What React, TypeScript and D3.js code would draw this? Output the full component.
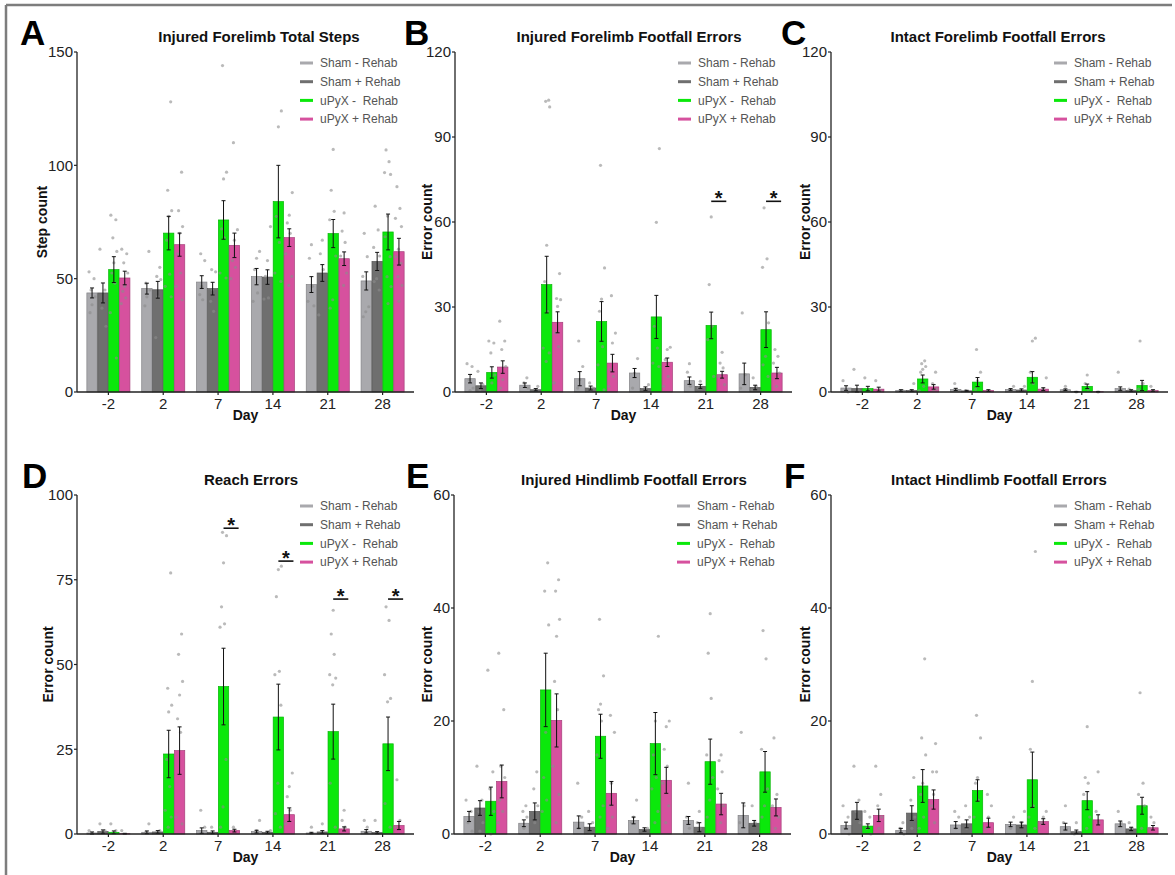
import React from "react";
import * as d3 from "d3";

const days = ["-2", "2", "7", "14", "21", "28"];
const groups = ["Sham - Rehab", "Sham + Rehab", "uPyX -  Rehab", "uPyX + Rehab"];
const groupColors = ["#a9a9ad", "#6f6f6f", "#0be80b", "#d6519e"];

// A: Injured Forelimb Total Steps
const aMeans = [
  [43.7, 45.6, 48.5, 50.9, 47.4, 49],
  [43.7, 45.1, 45.6, 50.7, 52.5, 57.6],
  [54, 70.1, 75.9, 84, 69.9, 70.6],
  [50.3, 65, 64.7, 68.1, 58.8, 61.9],
];
const aSem = [
  [2.2, 2.4, 2.8, 3.6, 3.5, 4],
  [4.4, 3.7, 2.8, 3.2, 3.7, 4],
  [5.7, 7.4, 8.5, 16, 6.2, 7.9],
  [3, 5.1, 5.4, 3.9, 3, 5.9],
];
const aPoints = [
  [[53, 50, 45, 42, 38.5, 35], [62, 48, 45, 42, 38], [61, 58, 46.6, 43, 40.7], [62, 59, 54, 43.7, 40], [65, 59, 46.6, 40, 38], [70, 59.7, 51, 37.6, 35.4, 33.2]],
  [[63, 45, 37, 29], [55, 51, 49.6, 42, 24], [54, 53, 45, 40, 35.6], [73, 58, 51, 41.5, 41], [67, 61, 54, 34], [82, 71.5, 63.8, 60, 50, 48.7, 45]],
  [[78, 76, 68, 62, 57, 52.5, 48, 35, 15], [128, 89, 80, 77.5, 67, 52, 46.6, 42], [144, 97, 94, 72, 68, 52.5, 50.3], [124, 117, 77.5, 66, 52.5, 48.8], [107, 89, 79.7, 76, 60, 40.7, 37], [106.8, 101.6, 96.8, 96, 77.6, 68.5, 59.7, 50.9, 46.5, 39]],
  [[63, 61, 57, 52.5, 46.6, 44.4, 41.5, 39], [97, 80, 73, 70, 61, 52.5, 46.6, 40.7], [110, 71.6, 67, 58, 55, 50], [88, 78, 74.6, 70, 61, 51, 47], [79, 71, 66, 60, 52.5, 47], [90.6, 81, 76.6, 73, 63, 59.7, 56.8, 50.9, 47, 40]],
];

// B: Injured Forelimb Footfall Errors
const bMeans = [
  [4.7, 2.4, 4.7, 6.7, 4, 6.4],
  [2.2, 0.8, 1.4, 1.2, 2, 1.6],
  [6.9, 37.9, 24.9, 26.5, 23.5, 22],
  [8.8, 24.6, 10.2, 10.5, 6.1, 6.7],
];
const bSem = [
  [1.5, 0.8, 2.5, 1.6, 1.3, 3.8],
  [1, 0.4, 0.7, 0.6, 0.7, 0.8],
  [2, 10, 7, 7.6, 4.7, 6.3],
  [2.2, 3.7, 3.1, 1.5, 1.2, 2],
];
const bPoints = [
  [[10, 9, 4.4, 1.4, 0.5], [5, 3.2, 1.4], [18, 9, 4.4, 1.4], [11.8, 6.7, 1.4], [10, 7, 2], [27.9, 6.1, 1.4]],
  [[7.3, 2.6, 0.8], [2, 0.8], [3.2, 1.4, 0.6], [2.6, 0.8], [3.8, 1.4], [5, 2, 0.8]],
  [[18, 17.3, 13.8, 6, 3.2], [103, 102.6, 100.6, 51.8, 39, 28.5, 15.5, 13.8, 10.8], [80, 43.8, 32.8, 28.5, 16, 9.6, 0.8], [85.9, 59.9, 23.2, 15.5, 10.2, 9], [61.8, 37.9, 23.2, 18.5, 5.5], [65, 47, 44, 24.4, 12.6, 9.6, 5.5]],
  [[25, 18, 15, 9, 4.4, 1.4], [41.8, 33, 32.6, 30.2, 20.8, 16, 3.2], [34, 20.8, 17.3, 7.9, 5.5, 2], [15.8, 15, 11.4, 5.5, 2], [14, 10.2, 8.5, 5.5, 2.6], [15, 12.6, 10.2, 6.7, 2]],
];
const bSig = [{ day: "21", value: 67.3 }, { day: "28", value: 67.3 }];

// C: Intact Forelimb Footfall Errors
const cMeans = [
  [1.4, 0.5, 0.9, 0.9, 0.8, 1.2],
  [1.2, 0.5, 0.4, 0.7, 0.1, 0.5],
  [1.2, 4.6, 3.5, 5.2, 2, 2.3],
  [1, 1.8, 0.5, 1, 0.1, 0.5],
];
const cSem = [
  [0.8, 0.3, 0.4, 0.3, 0.3, 0.6],
  [1.2, 0.3, 0.2, 0.4, 0.1, 0.3],
  [0.8, 1.4, 1.6, 2, 0.8, 1.8],
  [0.7, 0.8, 0.3, 0.5, 0.1, 0.3],
];
const cPoints = [
  [[4, 0], [0.5], [3, 0.5], [2, 0.5], [2, 0.5], [7, 0.5]],
  [[8, 0.5], [3, 0.5], [0.5], [2, 0.5], [0], [1]],
  [[5, 0.5], [11, 10, 9, 8, 7, 2, 0.5], [15, 7, 4, 1], [19, 18, 7, 3], [6, 3, 1], [18, 3, 1]],
  [[4, 0.5], [7, 3, 1, 0.5], [0.5], [5, 1], [0], [2, 0.5]],
];

// D: Reach Errors
const dMeans = [
  [0.3, 0.5, 1, 0.7, 0.3, 0.8],
  [0.7, 0.6, 0.5, 0.5, 0.6, 0.4],
  [0.5, 23.6, 43.5, 34.5, 30.2, 26.6],
  [0.1, 24.6, 1, 5.7, 1.5, 2.5],
];
const dSem = [
  [0.3, 0.4, 0.8, 0.4, 0.2, 0.5],
  [0.5, 0.4, 0.4, 0.3, 0.4, 0.3],
  [0.4, 7, 11.3, 9.7, 8.1, 7.9],
  [0.1, 7, 0.4, 2, 0.6, 1.2],
];
const dPoints = [
  [[1], [3, 0.5], [7, 2], [4, 1], [2], [4, 2]],
  [[3, 1], [1], [2], [1], [3], [4]],
  [[3, 1], [77, 43, 38, 36, 22, 14, 7, 5, 2], [89, 88, 80, 67, 62, 61, 22, 8, 2], [79, 78, 70, 48, 47, 38, 15, 6, 2], [66, 59, 53, 47, 46, 44, 15, 2], [67, 63, 47, 40, 39, 9, 2]],
  [[1], [59, 53, 45, 41, 34, 30, 5, 3], [2], [18, 14, 11, 7, 3], [7, 4, 2], [16, 4, 2]],
];
const dSig = [{ day: "7", value: 90.2 }, { day: "14", value: 80.5 }, { day: "21", value: 69.3 }, { day: "28", value: 69.3 }];

// E: Injured Hindlimb Footfall Errors
const eMeans = [
  [3.1, 1.9, 2.1, 2.4, 2.4, 3.3],
  [4.6, 4, 1.2, 0.8, 1.2, 1.9],
  [5.8, 25.5, 17.3, 16, 12.8, 11],
  [9.3, 20.1, 7.2, 9.5, 5.3, 4.7],
];
const eSem = [
  [0.9, 0.6, 1.1, 0.6, 0.7, 2.2],
  [1.3, 1.5, 0.6, 0.3, 0.8, 0.5],
  [2.5, 6.5, 3.9, 5.5, 4, 3.6],
  [2.9, 4.7, 2.1, 2.3, 1.9, 1.5],
];
const ePoints = [
  [[6, 4, 2, 0.5], [5, 4, 3, 1], [9, 3, 1], [6, 3, 2], [9, 3, 1], [18, 5, 2]],
  [[12, 6, 4, 2, 0.5], [11, 8, 5, 2], [4, 2], [1], [4, 2, 1], [5, 2]],
  [[29, 11, 8, 4, 0], [48, 43, 37, 18, 10, 6, 4], [38, 28, 23, 22, 20, 14, 5, 3], [35, 20, 14, 10, 8, 4, 2], [39, 32, 24, 14, 10, 6, 3], [36, 31, 15, 8, 5, 3]],
  [[32, 22, 12, 10, 8, 6, 4, 2], [45, 43, 38, 35, 27, 22, 12, 7, 2], [21, 18, 9, 5, 3, 1], [20, 19, 15, 12, 9, 5, 2], [14, 13, 11, 8, 5, 2], [17, 7, 5, 3, 1]],
];

// F: Intact Hindlimb Footfall Errors
const fMeans = [
  [1.5, 0.6, 1.6, 1.7, 1.3, 1.8],
  [4.1, 3.7, 1.8, 1.6, 0.4, 0.9],
  [1.4, 8.5, 7.7, 9.6, 5.9, 5],
  [3.3, 6.1, 2, 2.2, 2.5, 1.1],
];
const fSem = [
  [0.6, 0.4, 0.6, 0.4, 0.6, 0.5],
  [1.5, 1.3, 0.7, 0.5, 0.3, 0.3],
  [0.4, 2.9, 1.9, 4.9, 1.6, 1.5],
  [1.1, 1.7, 0.8, 0.5, 0.9, 0.4],
];
const fPoints = [
  [[5, 3, 1, 0], [2, 1, 0], [4, 3, 1], [3, 1], [5, 2, 1], [4, 2]],
  [[12, 6, 4, 2], [10, 6, 3, 1], [5, 3, 1], [4, 2], [2, 0], [2, 1]],
  [[4, 3, 1, 0], [31, 17, 14, 9, 7, 3, 1], [21, 17, 10, 9, 6, 3], [50, 27, 15, 5, 3, 1], [19, 10, 9, 7, 3, 1], [25, 9, 7, 5, 1]],
  [[12, 7, 5, 3, 1], [16, 11, 11, 7, 5, 2], [7, 5, 3, 1], [4, 3, 2], [11, 4, 2], [3, 2, 1]],
];

const FONT = "'Liberation Sans', Arial, sans-serif";
const jitter = [-3, 2, -1, 3, 0, -2, 1, -3.5, 2.5, -0.5];
const AXIS_LEN = 337;

const panels = [
  { letter: "A", lx: 20, title: "Injured Forelimb Total Steps", tx: 182, yLabel: "Step count", yl: 35, x0: 77, yTop: 52, yBottom: 392, yMax: 150, ticks: [0, 50, 100, 150], means: aMeans, sem: aSem, points: aPoints, sig: [] },
  { letter: "B", lx: 404, title: "Injured Forelimb Footfall Errors", tx: 174, yLabel: "Error count", yl: 28, x0: 455, yTop: 52, yBottom: 392, yMax: 120, ticks: [0, 30, 60, 90, 120], means: bMeans, sem: bSem, points: bPoints, sig: bSig },
  { letter: "C", lx: 781, title: "Intact Forelimb Footfall Errors", tx: 167, yLabel: "Error count", yl: 26, x0: 831, yTop: 52, yBottom: 392, yMax: 120, ticks: [0, 30, 60, 90, 120], means: cMeans, sem: cSem, points: cPoints, sig: [] },
  { letter: "D", lx: 22, title: "Reach Errors", tx: 174, yLabel: "Error count", yl: 29, x0: 77, yTop: 495, yBottom: 834, yMax: 100, ticks: [0, 25, 50, 75, 100], means: dMeans, sem: dSem, points: dPoints, sig: dSig },
  { letter: "E", lx: 406, title: "Injured Hindlimb Footfall Errors", tx: 180, yLabel: "Error count", yl: 27, x0: 454, yTop: 495, yBottom: 834, yMax: 60, ticks: [0, 20, 40, 60], means: eMeans, sem: eSem, points: ePoints, sig: [] },
  { letter: "F", lx: 784, title: "Intact Hindlimb Footfall Errors", tx: 168, yLabel: "Error count", yl: 26, x0: 831, yTop: 495, yBottom: 834, yMax: 60, ticks: [0, 20, 40, 60], means: fMeans, sem: fSem, points: fPoints, sig: [] },
];

function Panel({ p }) {
  const y = d3.scaleLinear().domain([0, p.yMax]).range([p.yBottom, p.yTop]);
  const x = d3.scaleBand().domain(days).range([p.x0, p.x0 + AXIS_LEN]).paddingInner(0.215).paddingOuter(0.18);
  const xg = d3.scaleBand().domain(groups).range([0, x.bandwidth()]).paddingInner(0.05);
  const bw = xg.bandwidth();
  const midY = (p.yTop + p.yBottom) / 2;

  return (
    <g>
      <text x={p.lx} y={p.yTop - 7} fontFamily={FONT} fontWeight="bold" fontSize={35} fill="#000">{p.letter}</text>
      <text x={p.x0 + p.tx} y={p.yTop - 10} textAnchor="middle" fontFamily={FONT} fontWeight="bold" fontSize={15} fill="#111">{p.title}</text>

      {/* bars */}
      {groups.map((g, gi) => days.map((d, di) => {
        const m = p.means[gi][di];
        return (
          <rect key={g + d} x={x(d) + xg(g)} y={y(m)} width={bw} height={p.yBottom - y(m)}
            fill={groupColors[gi]} stroke={d3.color(groupColors[gi]).darker(0.7).formatHex()} strokeWidth={0.7} />
        );
      }))}

      {/* individual animals */}
      {groups.map((g, gi) => days.map((d, di) => {
        const cx = x(d) + xg(g) + bw / 2;
        return p.points[gi][di].map((v, k) => (
          <circle key={g + d + k} cx={cx + jitter[(k + di) % jitter.length]} cy={y(v)} r={1.6}
            fill="#8c8c8c" fillOpacity={0.6} />
        ));
      }))}

      {/* error bars */}
      {groups.map((g, gi) => days.map((d, di) => {
        const cx = x(d) + xg(g) + bw / 2;
        const m = p.means[gi][di];
        const s = p.sem[gi][di];
        const lo = y(Math.max(0, m - s));
        const hi = y(m + s);
        return (
          <g key={"e" + g + d} stroke="#111" strokeWidth={1}>
            <line x1={cx} x2={cx} y1={lo} y2={hi} />
            <line x1={cx - 2} x2={cx + 2} y1={hi} y2={hi} />
            <line x1={cx - 2} x2={cx + 2} y1={lo} y2={lo} />
          </g>
        );
      }))}

      {/* significance */}
      {p.sig.map((s) => {
        const x1 = x(s.day) + xg(groups[2]) + bw / 2;
        const x2 = x(s.day) + xg(groups[3]) + bw - 1;
        return (
          <g key={"s" + s.day}>
            <line x1={x1} x2={x2} y1={y(s.value)} y2={y(s.value)} stroke="#111" strokeWidth={1.6} />
            <text x={(x1 + x2) / 2} y={y(s.value) + 4} textAnchor="middle" fontFamily={FONT} fontWeight="bold" fontSize={20} fill="#111">*</text>
          </g>
        );
      })}

      {/* y axis */}
      <line x1={p.x0} x2={p.x0} y1={p.yTop} y2={p.yBottom} stroke="#222" strokeWidth={1.3} />
      {p.ticks.map((t) => (
        <g key={"t" + t}>
          <line x1={p.x0 - 3} x2={p.x0} y1={y(t)} y2={y(t)} stroke="#222" strokeWidth={1.2} />
          <text x={p.x0 - 4} y={y(t)} dy="0.36em" textAnchor="end" fontFamily={FONT} fontSize={15} fill="#222">{t}</text>
        </g>
      ))}
      <text transform={`translate(${p.x0 - p.yl},${midY}) rotate(-90)`} textAnchor="middle" dy="0.35em"
        fontFamily={FONT} fontWeight="bold" fontSize={14} fill="#111">{p.yLabel}</text>

      {/* x axis */}
      <line x1={p.x0} x2={p.x0 + AXIS_LEN} y1={p.yBottom} y2={p.yBottom} stroke="#222" strokeWidth={1.3} />
      {days.map((d) => (
        <g key={"x" + d}>
          <line x1={x(d) + x.bandwidth() / 2} x2={x(d) + x.bandwidth() / 2} y1={p.yBottom} y2={p.yBottom + 3} stroke="#222" strokeWidth={1.2} />
          <text x={x(d) + x.bandwidth() / 2} y={p.yBottom + 17} textAnchor="middle" fontFamily={FONT} fontSize={15} fill="#222">{d}</text>
        </g>
      ))}
      <text x={p.x0 + AXIS_LEN / 2} y={p.yBottom + 28} textAnchor="middle" fontFamily={FONT} fontWeight="bold" fontSize={14} fill="#111">Day</text>

      {/* legend */}
      {groups.map((g, gi) => {
        const ly = p.yTop + 11 + gi * 18.7;
        return (
          <g key={"l" + g}>
            <line x1={p.x0 + 223} x2={p.x0 + 236} y1={ly} y2={ly} stroke={groupColors[gi]} strokeWidth={3} />
            <text x={p.x0 + 243} y={ly} dy="0.35em" fontFamily={FONT} fontSize={12} fill="#555" style={{ whiteSpace: "pre" }}>{g}</text>
          </g>
        );
      })}
    </g>
  );
}

export default function App() {
  return (
    <svg width={1175} height={875} style={{ position: "absolute", left: 0, top: 0, background: "#fff" }}>
      <rect x={0} y={0} width={1175} height={875} fill="#fff" />
      <line x1={6} x2={1172} y1={5} y2={5} stroke="#7d7d7d" strokeWidth={2.5} />
      <line x1={6} x2={6} y1={5} y2={875} stroke="#7d7d7d" strokeWidth={2.5} />
      {panels.map((p) => <Panel key={p.letter} p={p} />)}
    </svg>
  );
}
